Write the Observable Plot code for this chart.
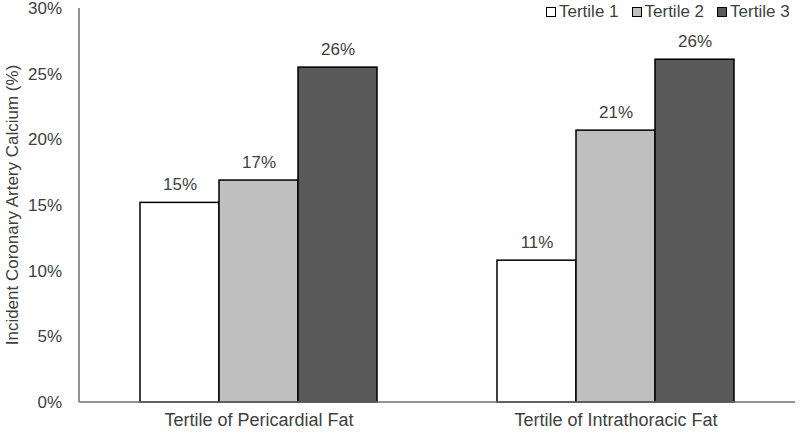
<!DOCTYPE html>
<html><head><meta charset="utf-8">
<script src="https://cdn.jsdelivr.net/npm/d3@7"></script>
<script src="https://cdn.jsdelivr.net/npm/@observablehq/plot@0.6"></script>
<style>
body{margin:0;background:#fff;font-family:"Liberation Sans",Arial,sans-serif;}
#wrap{position:relative;width:800px;height:436px;}
.legend{position:absolute;top:2px;left:546px;display:flex;font-size:17px;color:#404040;line-height:20px;white-space:nowrap;}
.item{display:flex;align-items:center;margin-right:13px;}
.sw{width:8px;height:8px;border:1.5px solid #000;margin-right:3px;}
</style></head>
<body><div id="wrap"></div>
<script>
const groups = ["Tertile of Pericardial Fat", "Tertile of Intrathoracic Fat"];
const tertiles = ["Tertile 1", "Tertile 2", "Tertile 3"];
const pericardial = [15.2, 16.9, 25.5];
const intrathoracic = [10.8, 20.7, 26.1];
const colors = ["#ffffff", "#bfbfbf", "#595959"];
const yTicks = [0, 5, 10, 15, 20, 25, 30];
const yLabel = "Incident Coronary Artery Calcium (%)";

const data = [];
tertiles.forEach((t, i) => {
  data.push({group: groups[0], tertile: t, value: pericardial[i]});
  data.push({group: groups[1], tertile: t, value: intrathoracic[i]});
});

const plot = Plot.plot({
  width: 800, height: 436,
  marginTop: 8, marginBottom: 34, marginLeft: 79, marginRight: 5,
  style: {fontFamily: '"Liberation Sans", Arial, sans-serif', fontSize: "17px", color: "#404040", background: "#fff"},
  fx: {domain: groups, paddingInner: 0.33, paddingOuter: 0.166, label: null},
  x: {domain: tertiles, padding: 0, axis: null},
  y: {domain: [0, 30], axis: null},
  color: {domain: tertiles, range: colors},
  marks: [
    Plot.axisFx({anchor: "bottom", tickSize: 0, tickPadding: 11, label: null, fontSize: 18}),
    Plot.barY(data, {fx: "group", x: "tertile", y: "value", fill: "tertile", stroke: "#000", strokeWidth: 1.5}),
    Plot.text(data, {fx: "group", x: "tertile", y: "value", text: d => Math.round(d.value) + "%", dy: -18, fontSize: 17, fill: "#404040"})
  ]
});
document.getElementById("wrap").appendChild(plot);

const ys = plot.scale("y");
const svg = d3.select(plot);
const x0 = 79, x1 = 800 - 5;
// y tick labels from the y scale
svg.append("g").selectAll("text").data(yTicks).join("text")
  .attr("x", x0 - 17)
  .attr("y", d => ys.apply(d))
  .attr("dy", "0.35em")
  .attr("text-anchor", "end")
  .attr("font-size", 17)
  .attr("fill", "#404040")
  .text(d => d + "%");
svg.append("line").attr("x1", x0).attr("x2", x0).attr("y1", ys.apply(30)).attr("y2", ys.apply(0)).attr("stroke", "#6e6e6e").attr("stroke-width", 1.5);
svg.append("line").attr("x1", x0).attr("x2", x1).attr("y1", ys.apply(0)).attr("y2", ys.apply(0)).attr("stroke", "#6e6e6e").attr("stroke-width", 1.5);
svg.append("text")
  .attr("transform", `translate(18,${ys.apply(15)}) rotate(-90)`)
  .attr("text-anchor", "middle")
  .attr("font-size", 17)
  .attr("fill", "#404040")
  .text(yLabel);

const lg = d3.select("#wrap").append("div").attr("class", "legend");
tertiles.forEach((t, i) => {
  const it = lg.append("div").attr("class", "item");
  it.append("div").attr("class", "sw").style("background", colors[i]);
  it.append("span").text(t);
});
</script></body></html>
